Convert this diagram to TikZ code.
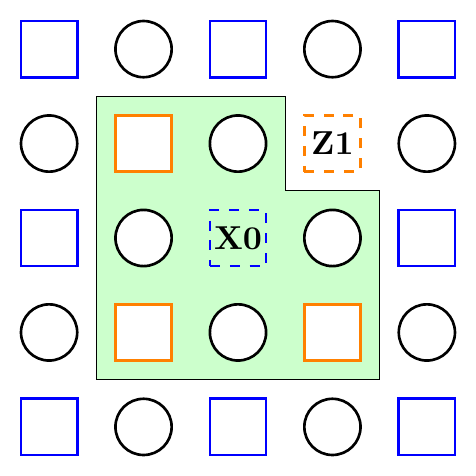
\documentclass[tikz,border=0pt]{standalone}
\usepackage{tikz}
\usetikzlibrary{positioning}

\definecolor{patchgreen}{HTML}{CCFFCC}
\definecolor{zorange}{HTML}{FF8000}

\begin{document}
\begin{tikzpicture}[
      q/.style={rectangle,draw=blue,thick,fill=white,minimum size=5.95mm,inner sep=0pt},
      o/.style={rectangle,draw=zorange,thick,fill=white,minimum size=5.95mm,inner sep=0pt},
      c/.style={circle,draw=black,thick,fill=white,minimum size=5.95mm,inner sep=0pt},
      stab/.style={rectangle,dashed,thick,minimum size=5.95mm,inner sep=0pt,font=\bfseries}]
    \useasboundingbox (-0.52,-0.52) rectangle (4.52,4.52);
    % patch
    \draw[fill=patchgreen] (0.5,3.5) -- (2.5,3.5) -- (2.5,2.5) -- (3.5,2.5)
        -- (3.5,0.5) -- (0.5,0.5) -- cycle;
    % row 0
    \node[q] (n00) at (0,4) {};
    \node[c] (n10) at (1,4) {};
    \node[q] (n20) at (2,4) {};
    \node[c] (n30) at (3,4) {};
    \node[q] (n40) at (4,4) {};
    % row 1
    \node[c] (n01) at (0,3) {};
    \node[o] (n11) at (1,3) {};
    \node[c] (n21) at (2,3) {};
    \node[stab,draw=zorange] (z1) at (3,3) {Z1};
    \node[c] (n41) at (4,3) {};
    % row 2
    \node[q] (n02) at (0,2) {};
    \node[c] (n12) at (1,2) {};
    \node[stab,draw=blue] (x0) at (2,2) {X0};
    \node[c] (n32) at (3,2) {};
    \node[q] (n42) at (4,2) {};
    % row 3
    \node[c] (n03) at (0,1) {};
    \node[o] (n13) at (1,1) {};
    \node[c] (n23) at (2,1) {};
    \node[o] (n33) at (3,1) {};
    \node[c] (n43) at (4,1) {};
    % row 4
    \node[q] (n04) at (0,0) {};
    \node[c] (n14) at (1,0) {};
    \node[q] (n24) at (2,0) {};
    \node[c] (n34) at (3,0) {};
    \node[q] (n44) at (4,0) {};
  \end{tikzpicture}
\end{document}
